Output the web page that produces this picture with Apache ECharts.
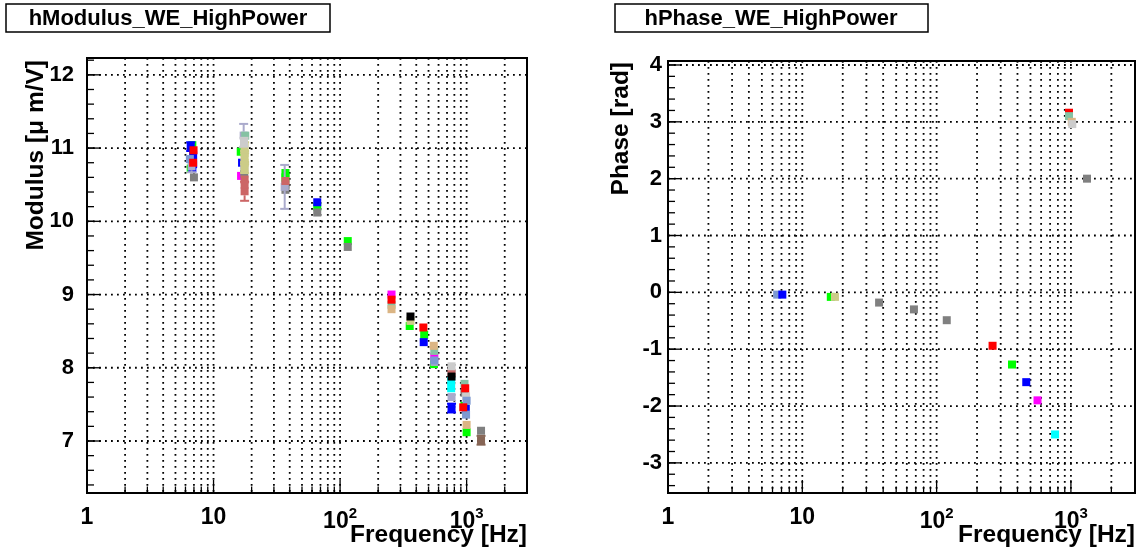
<!DOCTYPE html>
<html><head><meta charset="utf-8">
<script src="https://cdn.jsdelivr.net/npm/echarts@6/dist/echarts.min.js"></script>
<style>html,body{margin:0;padding:0;background:#fff}#c{width:1141px;height:552px}</style>
</head><body><div id="c"></div><script>
const FONT = '"Liberation Sans", Arial, Helvetica, sans-serif';

// ---- axis definitions ----
const freqRange = [1, 3000];
const modRange = [6.29, 12.23];
const phaseRange = [-3.53, 4.07];
const modYTicks = [7, 8, 9, 10, 11, 12];
const phaseYTicks = [-3, -2, -1, 0, 1, 2, 3, 4];
const xTickLabels = { 0: '1', 1: '10', 2: '10{s|2}', 3: '10{s|3}' };

// ---- colours ----
const cBlue = '#0000ff', cRed = '#ff0000', cGreen = '#00ff00', cGrey = '#808080',
      cMagenta = '#ff00ff', cCyan = '#00ffff', cBlack = '#000000', cKhaki = '#cccc88',
      cRose = '#cc6666', cLavender = '#aaaacc', cMint = '#85c2a3', cTan = '#dbb584',
      cLightGrey = '#cccccc', cLightBlue = '#7d99d1', cBrown = '#876656';

// ---- modulus data: [frequency Hz, modulus, error] ----
const modGreen = [[6.8,11.04,0.03],[6.6,10.72,0.05],[16.4,10.95,0.05],[37,10.66,0.04],[37,10.60,0.03],[66,10.20,0.03],[115,9.73,0.03],[355,8.57,0.04],[552,8.05,0.03],[1000,7.12,0.05],[960,7.48,0.04],[462,8.45,0.03]];
const modMagenta = [[255,9.00,0.02],[555,8.15,0.04],[16.5,10.62,0.04]];
const modBlue = [[6.6,11.02,0.06],[6.9,10.90,0.04],[6.9,10.78,0.05],[6.8,10.72,0.03],[16.8,10.80,0.04],[66,10.26,0.03],[458,8.35,0.03],[760,7.45,0.06],[985,7.44,0.05]];
const modGrey = [[7.0,10.60,0.03],[17.5,10.65,0.04],[37,10.50,0.04],[37,10.43,0.04],[66,10.12,0.03],[115,9.65,0.03],[960,7.66,0.03],[1300,7.14,0.03]];
const modLavender = [[17.3,11.17,0.16],[36.5,10.47,0.30],[6.7,10.75,0.08],[760,7.60,0.05],[557,8.08,0.03],[17.5,10.76,0.05]];
const modKhaki = [[17.6,11.02,0.06],[17.6,10.93,0.05],[17.6,10.87,0.06],[17.6,10.80,0.05],[17.6,10.72,0.06],[360,8.64,0.03]];
const modRose = [[17.6,10.57,0.05],[17.6,10.41,0.13],[17.6,10.50,0.04],[37,10.55,0.04],[760,7.93,0.03]];
const modMint = [[17.8,11.17,0.05],[255,8.86,0.02],[962,7.78,0.03],[555,8.23,0.03]];
const modTan = [[255,8.80,0.03],[550,8.30,0.03],[1000,7.22,0.03]];
const modLightGrey = [[760,8.02,0.02],[990,7.61,0.04],[17.4,11.08,0.06]];
const modLightBlue = [[990,7.36,0.04],[1000,7.55,0.04],[555,8.10,0.03],[6.5,10.85,0.05]];
const modRed = [[6.95,10.97,0.04],[6.9,10.80,0.03],[255,8.93,0.04],[455,8.55,0.04],[975,7.72,0.03],[940,7.46,0.03]];
const modCyan = [[755,7.82,0.04],[755,7.72,0.04]];
const modBlack = [[360,8.70,0.02],[760,7.88,0.02]];
const modBrown = [[1300,7.01,0.06]];

// ---- phase data: [frequency Hz, phase rad, error] ----
const phaseLightBlue = [[6.5,-0.04,0.02]];
const phaseBlue = [[7.1,-0.04,0.02],[465,-1.58,0.02]];
const phaseGreen = [[16.3,-0.08,0.02],[364,-1.27,0.02]];
const phaseKhaki = [[17.5,-0.08,0.02]];
const phaseGrey = [[37.3,-0.18,0.02],[67.8,-0.30,0.02],[119,-0.49,0.02],[1318,2.0,0.02]];
const phaseRed = [[261,-0.94,0.02],[968,3.16,0.02]];
const phaseMagenta = [[564,-1.90,0.02]];
const phaseCyan = [[762,-2.50,0.02]];
const phaseMint = [[968,3.10,0.02]];
const phaseTan = [[1015,3.0,0.02]];
const phaseLightGrey = [[1024,2.96,0.02]];

const modGroups = [
  [modGreen, cGreen], [modMagenta, cMagenta], [modBlue, cBlue], [modGrey, cGrey],
  [modLavender, cLavender], [modKhaki, cKhaki], [modRose, cRose], [modMint, cMint],
  [modTan, cTan], [modLightGrey, cLightGrey], [modLightBlue, cLightBlue], [modRed, cRed],
  [modCyan, cCyan], [modBlack, cBlack], [modBrown, cBrown]
];
const phaseGroups = [
  [phaseLightBlue, cLightBlue], [phaseBlue, cBlue], [phaseGreen, cGreen], [phaseKhaki, cKhaki],
  [phaseGrey, cGrey], [phaseRed, cRed], [phaseMagenta, cMagenta], [phaseCyan, cCyan],
  [phaseMint, cMint], [phaseTan, cTan], [phaseLightGrey, cLightGrey]
];

// ---- helpers ----
function logGridValues() {
  const out = [];
  for (let k = 0; k <= 3; k++) for (let m = 1; m <= 9; m++) {
    const v = m * Math.pow(10, k);
    if (v > freqRange[0] && v < freqRange[1]) out.push(v);
  }
  return out;
}
function minorValues(range, step) {
  const out = [];
  for (let v = Math.ceil(range[0] / step) * step; v < range[1]; v += step) out.push(Math.round(v * 10) / 10);
  return out;
}
const DOT = { stroke: '#000', lineWidth: 1.8, lineDash: [1.8, 4.2] };

function gridSeries(idx, yTicks, yRange) {
  const xs = logGridValues();
  const data = [];
  xs.forEach(v => data.push([v, yTicks[0], 0]));
  yTicks.forEach(v => data.push([freqRange[0], v, 1]));
  minorValues(yRange, 0.2).forEach(v => data.push([freqRange[0], v, 2]));
  return {
    type: 'custom', xAxisIndex: idx, yAxisIndex: idx, silent: true, z: 1, data: data,
    renderItem(params, api) {
      const cs = params.coordSys;
      const kind = api.value(2);
      const children = [];
      if (kind === 0) {
        const v = api.value(0);
        const x = api.coord([v, yTicks[0]])[0];
        const isMajor = Math.abs(Math.log10(v) - Math.round(Math.log10(v))) < 1e-6;
        children.push({ type: 'line', shape: { x1: x, y1: cs.y, x2: x, y2: cs.y + cs.height }, style: DOT });
        children.push({ type: 'line', shape: { x1: x, y1: cs.y + cs.height, x2: x, y2: cs.y + cs.height - (isMajor ? 13 : 6.5) }, style: { stroke: '#000', lineWidth: 1.3 } });
      } else {
        const y = api.coord([freqRange[0], api.value(1)])[1];
        if (kind === 1) {
          children.push({ type: 'line', shape: { x1: cs.x, y1: y, x2: cs.x + cs.width, y2: y }, style: DOT });
          children.push({ type: 'line', shape: { x1: cs.x, y1: y, x2: cs.x + 14, y2: y }, style: { stroke: '#000', lineWidth: 1.3 } });
        } else {
          children.push({ type: 'line', shape: { x1: cs.x, y1: y, x2: cs.x + 7, y2: y }, style: { stroke: '#000', lineWidth: 1.3 } });
        }
      }
      return { type: 'group', children };
    }
  };
}

function pointSeries(idx, data, color, z) {
  return {
    type: 'custom', xAxisIndex: idx, yAxisIndex: idx, silent: true, z: 5 + z, data: data,
    encode: { x: 0, y: 1 },
    renderItem(params, api) {
      const f = api.value(0), v = api.value(1), e = api.value(2);
      const c = api.coord([f, v]);
      const t = api.coord([f, v + e]);
      const b = api.coord([f, v - e]);
      const h = 4, cw = 4.5;
      const st = { stroke: color, lineWidth: 2 };
      const children = [];
      if (t[1] < c[1] - h) {
        children.push({ type: 'line', shape: { x1: c[0], y1: t[1], x2: c[0], y2: c[1] - h }, style: st });
        children.push({ type: 'line', shape: { x1: c[0] - cw, y1: t[1], x2: c[0] + cw, y2: t[1] }, style: st });
      }
      if (b[1] > c[1] + h) {
        children.push({ type: 'line', shape: { x1: c[0], y1: c[1] + h, x2: c[0], y2: b[1] }, style: st });
        children.push({ type: 'line', shape: { x1: c[0] - cw, y1: b[1], x2: c[0] + cw, y2: b[1] }, style: st });
      }
      children.push({ type: 'rect', shape: { x: c[0] - h, y: c[1] - h, width: 2 * h, height: 2 * h }, style: { fill: color } });
      return { type: 'group', children };
    }
  };
}

function xAxisDef(idx) {
  return {
    type: 'log', logBase: 10, gridIndex: idx, min: freqRange[0], max: freqRange[1],
    axisLine: { show: true, onZero: false, lineStyle: { color: '#000', width: 2 } },
    axisTick: { show: false }, splitLine: { show: false }, minorTick: { show: false },
    axisLabel: {
      margin: 13, color: '#000', fontSize: 23, fontWeight: 'bold', fontFamily: FONT,
      showMaxLabel: false,
      formatter: function (v) {
        const l = Math.log10(v), e = Math.round(l);
        if (Math.abs(l - e) > 1e-6) return '';
        return xTickLabels[e] !== undefined ? xTickLabels[e] : '';
      },
      rich: {
        s: { fontSize: 15, fontWeight: 'bold', fontFamily: FONT, color: '#000', padding: [0, 0, 17, 0] }
      }
    }
  };
}
function yAxisDef(idx, range, ticks, margin) {
  return {
    type: 'value', gridIndex: idx, min: range[0], max: range[1],
    axisLine: { show: true, onZero: false, lineStyle: { color: '#000', width: 2 } },
    axisTick: { show: false }, splitLine: { show: false },
    axisLabel: {
      customValues: ticks, margin: margin, color: '#000', fontSize: 22, fontWeight: 'bold', fontFamily: FONT,
      formatter: v => (Math.abs(v - Math.round(v)) < 1e-6 ? String(Math.round(v)) : '')
    }
  };
}

const series = [gridSeries(0, modYTicks, modRange), gridSeries(1, phaseYTicks, phaseRange)];
modGroups.forEach((g, i) => series.push(pointSeries(0, g[0], g[1], i)));
phaseGroups.forEach((g, i) => series.push(pointSeries(1, g[0], g[1], i)));

function txt(x, y, text, size, align, rot) {
  return { type: 'text', x: x, y: y, rotation: rot || 0, z: 100,
    style: { text: text, x: 0, y: 0, fill: '#000', font: 'bold ' + size + 'px ' + FONT,
      textAlign: align, textVerticalAlign: 'middle' } };
}

const chart = echarts.init(document.getElementById('c'), null, { renderer: 'canvas' });
chart.setOption({
  animation: false,
  backgroundColor: '#fff',
  grid: [
    { left: 87, top: 58, width: 440, height: 435, show: true, borderColor: '#000', borderWidth: 2, containLabel: false },
    { left: 668, top: 61, width: 467, height: 432, show: true, borderColor: '#000', borderWidth: 2, containLabel: false }
  ],
  xAxis: [xAxisDef(0), xAxisDef(1)],
  yAxis: [yAxisDef(0, modRange, modYTicks, 13), yAxisDef(1, phaseRange, phaseYTicks, 6)],
  series: series,
  graphic: [
    { type: 'rect', shape: { x: 6, y: 4, width: 324, height: 28 }, style: { fill: '#fff', stroke: '#000', lineWidth: 1.5 } },
    txt(168, 18.5, 'hModulus_WE_HighPower', 22, 'center'),
    { type: 'rect', shape: { x: 615, y: 4, width: 313, height: 28 }, style: { fill: '#fff', stroke: '#000', lineWidth: 1.5 } },
    txt(771, 18.5, 'hPhase_WE_HighPower', 22, 'center'),
    txt(36, 60, 'Modulus [μ m/V]', 24.5, 'right', Math.PI / 2),
    txt(621, 62, 'Phase [rad]', 24.5, 'right', Math.PI / 2),
    txt(527, 535, 'Frequency [Hz]', 24.5, 'right'),
    txt(1135, 535, 'Frequency [Hz]', 24.5, 'right')
  ]
});
</script></body></html>
